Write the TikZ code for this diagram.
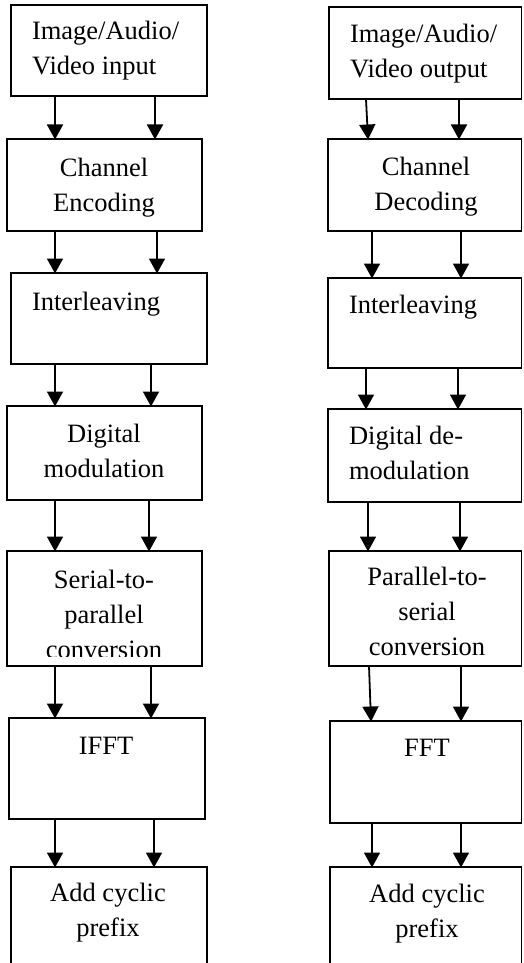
\documentclass[tikz,border=0pt]{standalone}
\usepackage{fontspec}
\setmainfont{Liberation Serif}
\usetikzlibrary{arrows.meta}
\tikzset{
  box/.style={draw=black, line width=1.5pt, inner sep=0pt, outer sep=0pt, anchor=north west},
  % labels are placed by the baseline of their last line
  lbl/.style={font=\fontsize{26.5}{35}\selectfont, inner sep=0pt, outer sep=0pt, anchor=base},
  lblc/.style={lbl, align=center},
  lbll/.style={lbl, align=left, anchor=base west},
  flow/.style={line width=1.8pt, -{Triangle[width=16pt,length=15pt]}, shorten >=-0.5pt}
}
\begin{document}
\begin{tikzpicture}[x=1pt, y=-1pt]
\clip (0,0) rectangle (523,963);
\fill[white] (0,0) rectangle (523,963);

% transmitter chain
\node[box, minimum width=196, minimum height=91]  (L1) at (11,5)   {};
\node[box, minimum width=195, minimum height=92]  (L2) at (7,139)  {};
\node[box, minimum width=196, minimum height=91]  (L3) at (11,273) {};
\node[box, minimum width=195, minimum height=94]  (L4) at (7,406)  {};
\node[box, minimum width=195, minimum height=115] (L5) at (7,551)  {};
\node[box, minimum width=196, minimum height=101] (L6) at (9,718)  {};
\node[box, minimum width=196, minimum height=110] (L7) at (11,867) {};

\node[lbll] (tL1) at (32,75)  {Image/Audio/\\Video input};
\node[lblc] (tL2) at (104,211) {Channel\\Encoding};
\node[lbll] (tL3) at (32,310) {Interleaving};
\node[lblc] (tL4) at (104,477) {Digital\\modulation};
\begin{scope}
  \clip (7,551) rectangle (202,656);
  \node[lblc] (tL5) at (104,658) {Serial-to-\\parallel\\conversion};
\end{scope}
\node[lblc] (tL6) at (106,754) {IFFT};
\node[lblc] (tL7) at (108,936) {Add cyclic\\prefix};

% receiver chain
\node[box, minimum width=192.5, minimum height=92]  (R1) at (329,7)   {};
\node[box, minimum width=193.5, minimum height=92]  (R2) at (328,139) {};
\node[box, minimum width=193.5, minimum height=90]  (R3) at (328,278) {};
\node[box, minimum width=193.5, minimum height=93]  (R4) at (328,409) {};
\node[box, minimum width=192.5, minimum height=115] (R5) at (329,551) {};
\node[box, minimum width=191.5, minimum height=102] (R6) at (330,721) {};
\node[box, minimum width=191.5, minimum height=110] (R7) at (330,867) {};

\node[lbll] (tR1) at (350,78)  {Image/Audio/\\Video output};
\node[lblc] (tR2) at (426,210) {Channel\\Decoding};
\node[lbll] (tR3) at (349,313) {Interleaving};
\node[lbll] (tR4) at (349,479) {Digital de-\\modulation};
\node[lblc] (tR5) at (427,655) {Parallel-to-\\serial\\conversion};
\node[lblc] (tR6) at (427,756) {FFT};
\node[lblc] (tR7) at (427,937) {Add cyclic\\prefix};

% transmitter links
\draw[flow] (L1.south -| 55,0)  -- (L2.north -| 55,0);
\draw[flow] (L1.south -| 155,0) -- (L2.north -| 155,0);
\draw[flow] (L2.south -| 55,0)  -- (L3.north -| 55,0);
\draw[flow] (L2.south -| 157,0) -- (L3.north -| 157,0);
\draw[flow] (L3.south -| 55,0)  -- (L4.north -| 55,0);
\draw[flow] (L3.south -| 151,0) -- (L4.north -| 151,0);
\draw[flow] (L4.south -| 55,0)  -- (L5.north -| 55,0);
\draw[flow] (L4.south -| 149,0) -- (L5.north -| 149,0);
\draw[flow] (L5.south -| 55,0)  -- (L6.north -| 55,0);
\draw[flow] (L5.south -| 151,0) -- (L6.north -| 151,0);
\draw[flow] (L6.south -| 55,0)  -- (L7.north -| 55,0);
\draw[flow] (L6.south -| 154,0) -- (L7.north -| 154,0);

% receiver links
\draw[flow] (R1.south -| 366,0) -- (R2.north -| 368,0);
\draw[flow] (R1.south -| 459,0) -- (R2.north -| 459,0);
\draw[flow] (R2.south -| 372,0) -- (R3.north -| 372,0);
\draw[flow] (R2.south -| 461,0) -- (R3.north -| 461,0);
\draw[flow] (R3.south -| 366,0) -- (R4.north -| 366,0);
\draw[flow] (R3.south -| 458,0) -- (R4.north -| 458,0);
\draw[flow] (R4.south -| 368,0) -- (R5.north -| 368,0);
\draw[flow] (R4.south -| 460,0) -- (R5.north -| 460,0);
\draw[flow] (R5.south -| 369,0) -- (R6.north -| 371,0);
\draw[flow] (R5.south -| 461,0) -- (R6.north -| 461,0);
\draw[flow] (R6.south -| 372,0) -- (R7.north -| 372,0);
\draw[flow] (R6.south -| 461,0) -- (R7.north -| 461,0);
\end{tikzpicture}
\end{document}
